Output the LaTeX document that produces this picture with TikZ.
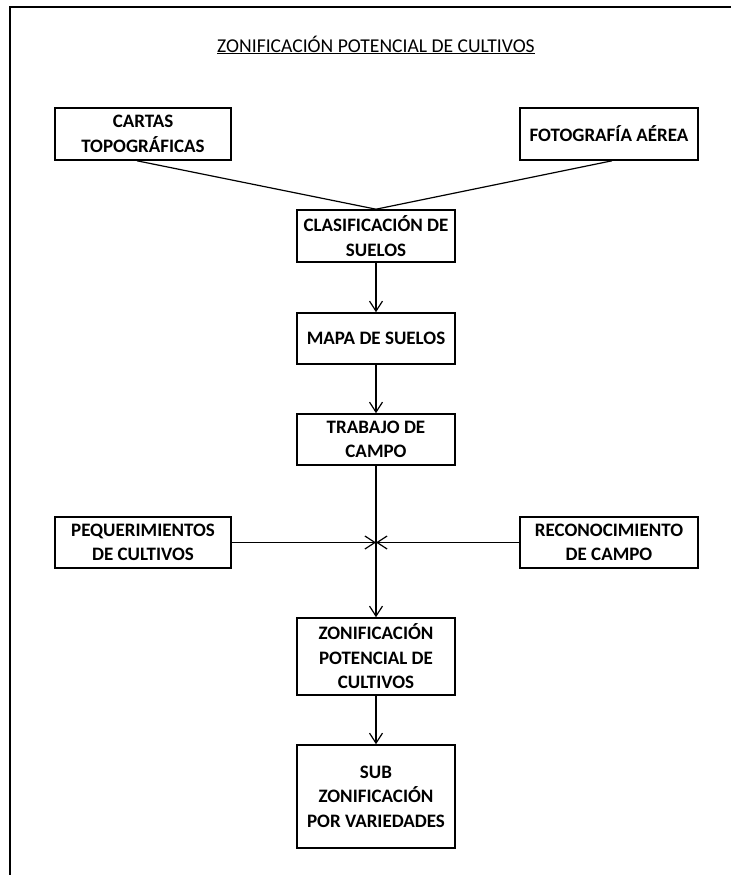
\documentclass[tikz,border=0pt]{standalone}
\usepackage{fontspec}
\setmainfont{Carlito}
\usetikzlibrary{arrows.meta}
\begin{document}
\begin{tikzpicture}[x=1pt,y=-1pt,
  box/.style={draw, line width=1.6pt, inner sep=0pt, align=center,
    font=\bfseries\fontsize{19}{24.5}\selectfont},
  arr/.style={-{Straight Barb[length=10pt,width=13pt]}, line width=1.2pt},
  ln/.style={line width=1.2pt},
  frame/.style={line width=1.8pt}]
\useasboundingbox (0,0) rectangle (731,875);
\draw[frame] (10,875) -- (10,7) -- (731,7);
\node[font=\fontsize{19.6}{22}\selectfont] (title) at (376,45) {\underline{ZONIFICACIÓN POTENCIAL DE CULTIVOS}};
\node[box, minimum width=176pt, minimum height=52pt] (cartas) at (143,134) {CARTAS\\TOPOGRÁFICAS};
\node[box, minimum width=178pt, minimum height=52pt] (foto) at (609,134) {FOTOGRAFÍA AÉREA};
\node[box, minimum width=158pt, minimum height=52pt] (clas) at (376,236) {CLASIFICACIÓN DE\\SUELOS};
\node[box, minimum width=158pt, minimum height=51pt] (mapa) at (376,338.5) {MAPA DE SUELOS};
\node[box, minimum width=158pt, minimum height=51pt] (trab) at (376,439.5) {TRABAJO DE\\CAMPO};
\node[box, minimum width=176pt, minimum height=51pt] (peq) at (143,542.5) {PEQUERIMIENTOS\\DE CULTIVOS};
\node[box, minimum width=178pt, minimum height=51pt] (rec) at (609,542.5) {RECONOCIMIENTO\\DE CAMPO};
\node[box, minimum width=158pt, minimum height=77pt] (zon) at (376,656.5) {ZONIFICACIÓN\\POTENCIAL DE\\CULTIVOS};
\node[box, minimum width=158pt, minimum height=103pt] (sub) at (376,796.5) {SUB\\ZONIFICACIÓN\\POR VARIEDADES};
\coordinate (cross) at (trab.south |- peq.east);
\draw[ln] ([xshift=-6pt]cartas.south) -- (clas.north);
\draw[ln] ([xshift=3pt]foto.south) -- (clas.north);
\draw[arr] (clas) -- (mapa);
\draw[arr] (mapa) -- (trab);
\draw[ln] (trab) -- (cross);
\draw[arr] (cross) -- (zon);
\draw[arr] (peq) -- (cross);
\draw[arr] (rec) -- (cross);
\draw[arr] (zon) -- (sub);
\end{tikzpicture}
\end{document}
